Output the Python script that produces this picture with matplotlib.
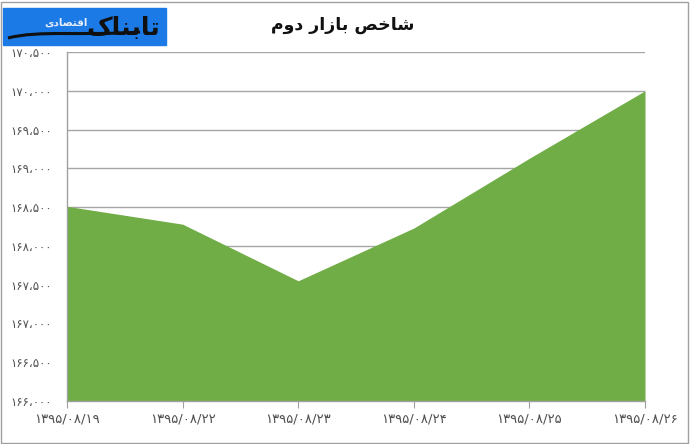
import matplotlib
matplotlib.use("Agg")
import matplotlib.pyplot as plt
from matplotlib.patches import Rectangle, PathPatch
from matplotlib.path import Path

# data
dates = ["۱۳۹۵/۰۸/۱۹", "۱۳۹۵/۰۸/۲۲", "۱۳۹۵/۰۸/۲۳",
         "۱۳۹۵/۰۸/۲۴", "۱۳۹۵/۰۸/۲۵", "۱۳۹۵/۰۸/۲۶"]
index_values = [168510, 168280, 167550, 168230, 169130, 170000]
y_ticks = [166000, 166500, 167000, 167500, 168000, 168500,
           169000, 169500, 170000, 170500]

# matplotlib has no arabic shaping, so the strings are given in
# presentation forms and visual (left-to-right) order
title_txt = "\ufee1\ufeed\ufea9 \ufead\ufe8d\ufeaf\ufe8e\ufe91 \ufeba\ufea7\ufe8e\ufeb7"
logo_big = "\ufb8e\ufe8e\ufee8\ufe91\ufe8e\ufe97"
logo_small = "\ufbfc\ufea9\ufe8e\ufebc\ufe98\ufed7\ufe8d"

fa_digits = str.maketrans("0123456789,", "۰۱۲۳۴۵۶۷۸۹،")


def fa_num(v):
    return f"{v:,}".translate(fa_digits)


plt.rcParams['font.family'] = ['DejaVu Sans']

fig = plt.figure(figsize=(6.9, 4.44), dpi=100)
ax = fig.add_axes([67 / 690, 1 - 401 / 444, (645 - 67) / 690, (401 - 52) / 444])

x = list(range(len(dates)))
ax.fill_between(x, y_ticks[0], index_values, color="#70ad47", lw=0, zorder=2)

ax.set_xlim(0, len(dates) - 1)
ax.set_ylim(y_ticks[0], y_ticks[-1])
ax.set_xticks(x)
ax.set_xticklabels(dates, fontsize=9.5, color="#505050")
ax.set_yticks(y_ticks)
ax.set_yticklabels([fa_num(v) for v in y_ticks], fontsize=8.5, color="#505050")
ax.tick_params(axis="y", length=0, pad=11)
ax.tick_params(axis="x", length=5, color="#a0a0a0", pad=3)
ax.grid(axis="y", color="#a6a6a6", lw=1, zorder=1)
for side in ["top", "right"]:
    ax.spines[side].set_visible(False)
for side in ["left", "bottom"]:
    ax.spines[side].set_color("#a0a0a0")
    ax.spines[side].set_linewidth(1)

fig.text(343 / 690, 1 - 25 / 444, title_txt, ha="center", va="center",
         fontsize=12.5, fontweight="bold", color="#111111")

# logo box
fig.patches.append(Rectangle((3 / 690, 1 - 45 / 444), 163 / 690, 37 / 444,
                             transform=fig.transFigure, color="#1b7ae6", zorder=3))
swoosh = Path([(8 / 690, 1 - 38 / 444), (40 / 690, 1 - 30 / 444),
               (80 / 690, 1 - 36 / 444), (140 / 690, 1 - 32 / 444)],
              [Path.MOVETO, Path.CURVE4, Path.CURVE4, Path.CURVE4])
fig.patches.append(PathPatch(swoosh, transform=fig.transFigure, fill=False,
                             ec="#101010", lw=2.2, zorder=4))
fig.text(160 / 690, 1 - 28 / 444, logo_big, ha="right", va="center",
         fontsize=18, fontweight="bold", color="#101010", zorder=4)
fig.text(88 / 690, 1 - 23 / 444, logo_small, ha="right", va="center",
         fontsize=7.5, fontweight="bold", color="#e8eef8", zorder=4)

# image frame
fig.patches.append(Rectangle((1 / 690, 1 / 444), 687 / 690, 441 / 444,
                             transform=fig.transFigure, fill=False,
                             ec="#a0a0a0", lw=1, zorder=5))

fig.savefig("out.png", dpi=100)
